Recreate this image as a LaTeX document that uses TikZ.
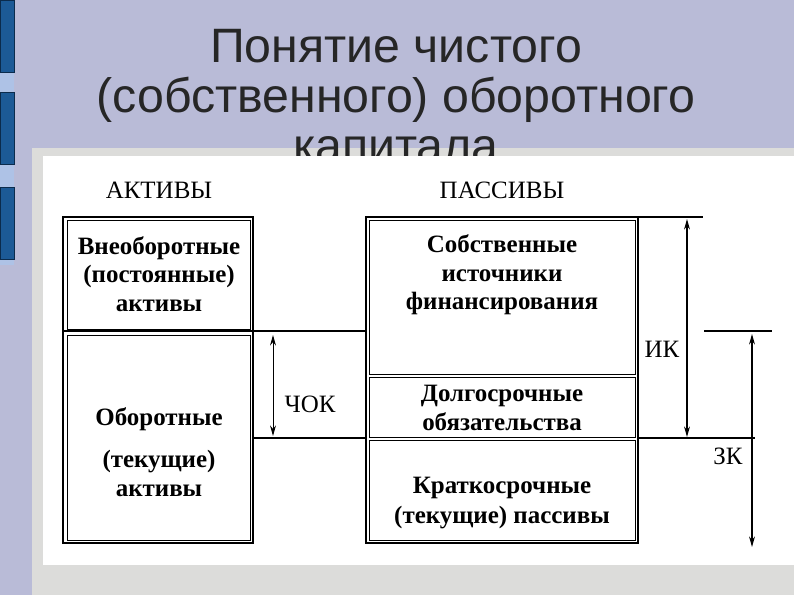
\documentclass[tikz,border=0pt]{standalone}
\usepackage{fontspec}
\setmainfont{Liberation Serif}
\newfontfamily\titlefont{Liberation Sans}
\usepackage{tikz}
\usetikzlibrary{
  arrows.meta,
  positioning,
}
\definecolor{slideBg}{HTML}{B9BBD7}
\definecolor{barBlue}{HTML}{1C5A96}
\definecolor{barEdge}{HTML}{0B2B4C}
\definecolor{barGlow}{HTML}{AEC2E6}
\definecolor{panelGray}{HTML}{DCDCDA}
\definecolor{titleInk}{HTML}{262626}

\begin{document}
\begin{tikzpicture}[x=0.03cm, y=-0.03cm,
  frame/.style={draw=black, line width=1.7pt, anchor=north west,
                inner sep=0pt, outer sep=0pt},
  cell/.style={draw=black, line width=0.7pt, anchor=north west,
               inner sep=0pt, outer sep=0pt},
  boxtxt/.style={font=\bfseries\fontsize{21.3}{24.2}\selectfont,
                 align=center, inner sep=0pt},
  headtxt/.style={font=\fontsize{21.3}{24}\selectfont, inner sep=0pt},
  rule/.style={line width=1.3pt},
  dimarrow/.style={{Stealth[length=9pt,width=5pt]}-{Stealth[length=9pt,width=5pt]},
                   line width=1.1pt},
]

\useasboundingbox (0,0) rectangle (794,595);

% slide background and the blue bars on the left
\fill[slideBg] (0,0) rectangle (794,595);
\fill[barGlow] (0,0) rectangle (14,265);
\foreach \ya/\yb in {0/72, 92/164, 187/259}
{
  \filldraw[fill=barBlue, draw=barEdge, line width=0.8pt] (0,\ya) rectangle (14,\yb);
}

% gray frame of the picture
\fill[panelGray] (32,148) rectangle (794,595);

% title (its last line runs under the white area)
\node[font=\titlefont\fontsize{41.2}{42.5}\selectfont, text=titleInk, align=center]
  (title) at (396,96) {Понятие чистого\\(собственного) оборотного\\капитала};

\fill[white] (43,156) rectangle (794,565);

% column heads
\node[headtxt] (actHead) at (159,190) {АКТИВЫ};
\node[headtxt] (pasHead) at (502,190) {ПАССИВЫ};

% assets column
\node[frame, minimum width=5.70cm, minimum height=9.78cm] (actFrame) at (63,217) {};
\node[cell, minimum width=5.49cm, minimum height=3.27cm] (vna) at (67,220) {};
\node[cell, minimum width=5.49cm, minimum height=6.15cm] (oba) at (67,335) {};

% liabilities column
\node[frame, minimum width=8.16cm, minimum height=9.78cm] (pasFrame) at (366,217) {};
\node[cell, minimum width=7.98cm, minimum height=4.62cm] (own) at (369,220) {};
\node[cell, minimum width=7.98cm, minimum height=1.80cm] (ltl) at (369,377) {};
\node[cell, minimum width=7.98cm, minimum height=3.00cm] (stl) at (369,440) {};

% texts of the cells
\node[boxtxt] (vnaTxt) at (159,274) {Внеоборотные\\(постоянные)\\активы};
\node[boxtxt] (obaTxt) at (159,452) {Оборотные\\[12pt](текущие)\\активы};
\node[boxtxt] (ownTxt) at (502,275) {Собственные\\источники\\финансирования};
\node[boxtxt] (ltlTxt) at (502,408) {Долгосрочные\\обязательства};
\node[boxtxt, font=\bfseries\fontsize{21.3}{25.5}\selectfont]
  (stlTxt) at (502,503) {Краткосрочные\\(текущие) пассивы};

% levels of the horizontal rules
\coordinate (lvlOwn) at (0,331);
\coordinate (lvlCur) at (0,438);
\coordinate (ikEnd) at (703,217);
\coordinate (zkL) at (704,331);
\coordinate (zkR) at (772,331);
\coordinate (curEnd) at (755,438);

\draw[frame] (actFrame.west |- lvlOwn) -- (actFrame.east |- lvlOwn);
\draw[rule] (actFrame.east |- lvlOwn) -- (pasFrame.west |- lvlOwn);
\draw[rule] (actFrame.east |- lvlCur) -- (pasFrame.west |- lvlCur);
\draw[rule] (pasFrame.north east) -- (ikEnd);
\draw[rule] (zkL) -- (zkR);
\draw[rule] (pasFrame.east |- lvlCur) -- (curEnd);

% dimension arrows
\coordinate (chokA) at (273,335);
\coordinate (chokB) at (273,436);
\coordinate (ikA) at (687,219);
\coordinate (ikB) at (687,437);
\coordinate (zkA) at (752,334);
\coordinate (zkB) at (752,547);

\draw[dimarrow, line width=0.8pt] (chokA) -- (chokB);
\draw[dimarrow] (ikA) -- (ikB);
\draw[dimarrow] (zkA) -- (zkB);

\node[headtxt] (chokLbl) at (310,404) {ЧОК};
\node[headtxt] (ikLbl) at (662,349) {ИК};
\node[headtxt] (zkLbl) at (728,456) {ЗК};

\end{tikzpicture}
\end{document}
